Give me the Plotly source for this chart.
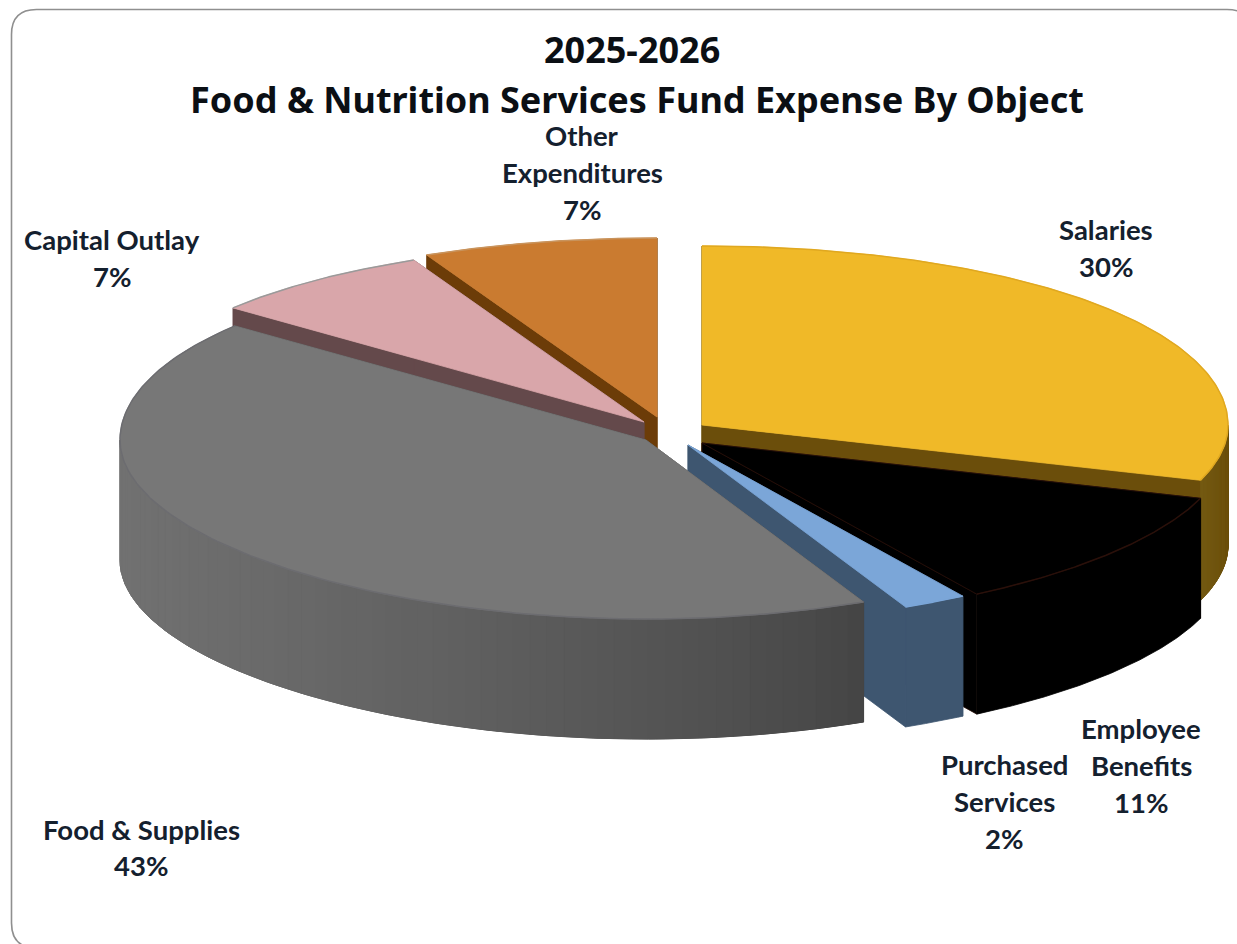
import numpy as np
import plotly.graph_objects as go

# Budget shares, clockwise from twelve o'clock
categories = ["Salaries", "Employee Benefits", "Purchased Services",
              "Food & Supplies", "Capital Outlay", "Other Expenditures"]
shares = [30, 11, 2, 43, 7, 7]
label_lines = [["Salaries"], ["Employee", "Benefits"], ["Purchased", "Services"],
               ["Food & Supplies"], ["Capital Outlay"], ["Other", "Expenditures"]]

top_colors = ["#f0b928", "#000000", "#7ba6d8", "#777777", "#d9a6aa", "#ca7b30"]
cut_colors = ["#6b4e0b", "#000000", "#3e5670", "#4a4a4a", "#64494b", "#6c3c08"]
wall_start = ["#6b4e0b", "#000000", "#3e5670", "#444444", "#64494b", "#6c3c08"]
wall_end = ["#745a12", "#000000", "#3e5670", "#717171", "#64494b", "#6c3c08"]
edge_colors = ["#e0a820", "#2a100a", "#7ba6d8", "#6c6c70", "#9a9a9a", "#c8935c"]
outline_colors = [None, "#2a100a", None, None, None, None]

# Where each slice's point sits after being pulled out of the pie
apex_x = [702, 702, 688, 646, 644, 657]
apex_y = [425, 443, 445, 440, 422, 417]
RADIUS = 526
DEPTH = 179
THICK = 120
STRIPS = 60

# Paint order: farthest slice first
paint_order = [5, 4, 0, 1, 2, 3]


def project(i, theta, r=1.0, lift=0.0):
    """Map a polar position on slice i to page coordinates."""
    v = np.cos(theta)
    x = apex_x[i] + r * RADIUS * np.sin(theta) * (1 + 0.035 * v * np.abs(v))
    y = apex_y[i] - r * DEPTH * v + lift
    return x, y


def blend(c0, c1, t):
    a = [int(c0[k:k + 2], 16) for k in (1, 3, 5)]
    b = [int(c1[k:k + 2], 16) for k in (1, 3, 5)]
    return "#%02x%02x%02x" % tuple(round(p + (q - p) * t) for p, q in zip(a, b))


def polygon(xs, ys, fill, line=None, width=0.8):
    return go.Scatter(x=list(xs), y=list(ys), mode="lines", fill="toself",
                      fillcolor=fill, line=dict(color=line or fill, width=width),
                      hoverinfo="skip", showlegend=False)


fracs = np.array(shares) / sum(shares)
ends = np.cumsum(fracs) * 2 * np.pi
starts = ends - fracs * 2 * np.pi

fig = go.Figure()
for i in paint_order:
    a0, a1 = starts[i], ends[i]
    x0, y0 = project(i, 0.0, r=0)
    # radial cut faces at both ends of the slice
    for a in (a0, a1):
        x1, y1 = project(i, a)
        fig.add_trace(polygon([x0, x1, x1, x0, x0],
                              [y0, y1, y1 + THICK, y0 + THICK, y0],
                              cut_colors[i], line=outline_colors[i]))
    # outer wall, only where the rim faces the viewer: one solid base,
    # then narrow strips carrying the shading
    arc = np.linspace(a0, a1, 200)
    arc = arc[np.cos(arc) <= 0]
    if arc.size:
        ax, ay = project(i, arc)
        fig.add_trace(polygon(np.r_[ax, ax[::-1], ax[0]],
                              np.r_[ay, ay[::-1] + THICK, ay[0]], wall_start[i]))
        if wall_start[i] != wall_end[i]:
            grid = np.linspace(arc[0], arc[-1], STRIPS + 1)
            for k in range(STRIPS):
                seg = np.linspace(grid[k], grid[k + 1], 3)
                xs, ys = project(i, seg)
                t = abs((xs.mean() - ax[0]) / (ax[-1] - ax[0])) ** 0.8
                fig.add_trace(polygon(np.r_[xs, xs[::-1], xs[0]],
                                      np.r_[ys, ys[::-1] + THICK, ys[0]],
                                      blend(wall_start[i], wall_end[i], t), width=1.0))
    # top face and its rim highlight
    arc = np.linspace(a0, a1, 160)
    ax, ay = project(i, arc)
    fig.add_trace(polygon(np.r_[x0, ax, x0], np.r_[y0, ay, y0], top_colors[i],
                          line=outline_colors[i]))
    fig.add_trace(go.Scatter(x=ax, y=ay, mode="lines", hoverinfo="skip", showlegend=False,
                             line=dict(color=edge_colors[i], width=1.5)))

INK = "#14202e"
LABEL_FONT = dict(family="Lato", size=27.5, color=INK)
TITLE_FONT = dict(family="Noto Sans", size=36, color="#0b0f14")


def text(x, y, s, font):
    fig.add_annotation(x=x, y=y, text=f"<b>{s}</b>", showarrow=False, xref="x", yref="y",
                       xanchor="center", yanchor="middle", font=font)


text(632, 49, "2025-2026", TITLE_FONT)
text(637, 99, "Food &amp; Nutrition Services Fund Expense By Object", TITLE_FONT)

label_x = [1106, 1141, 1004, 141, 112, 582]
label_y = [229, 728, 764, 829, 239, 135]
label_step = [37, 37, 37, 36, 37, 37]
for i, lines in enumerate(label_lines):
    rows = [ln.replace("&", "&amp;") for ln in lines] + [f"{shares[i]}%"]
    for n, row in enumerate(rows):
        text(label_x[i], label_y[i] + n * label_step[i], row, LABEL_FONT)

# Rounded chart frame, running off the right and bottom of the page
L, T, R_, B, C = 11.5, 9.5, 1252, 948, 25
frame = (f"M {L + C} {T} L {R_ - C} {T} Q {R_} {T} {R_} {T + C} L {R_} {B - C} "
         f"Q {R_} {B} {R_ - C} {B} L {L + C} {B} Q {L} {B} {L} {B - C} L {L} {T + C} "
         f"Q {L} {T} {L + C} {T} Z")
fig.add_shape(type="path", path=frame, xref="x", yref="y",
              line=dict(color="#8f8f8f", width=1.6), layer="below")

fig.update_layout(
    width=1237, height=944, margin=dict(l=0, r=0, t=0, b=0),
    paper_bgcolor="white", plot_bgcolor="white", showlegend=False,
    xaxis=dict(range=[0, 1237], visible=False, fixedrange=True),
    yaxis=dict(range=[944, 0], visible=False, fixedrange=True),
)
fig.write_html("out.html", config=dict(displayModeBar=False))
